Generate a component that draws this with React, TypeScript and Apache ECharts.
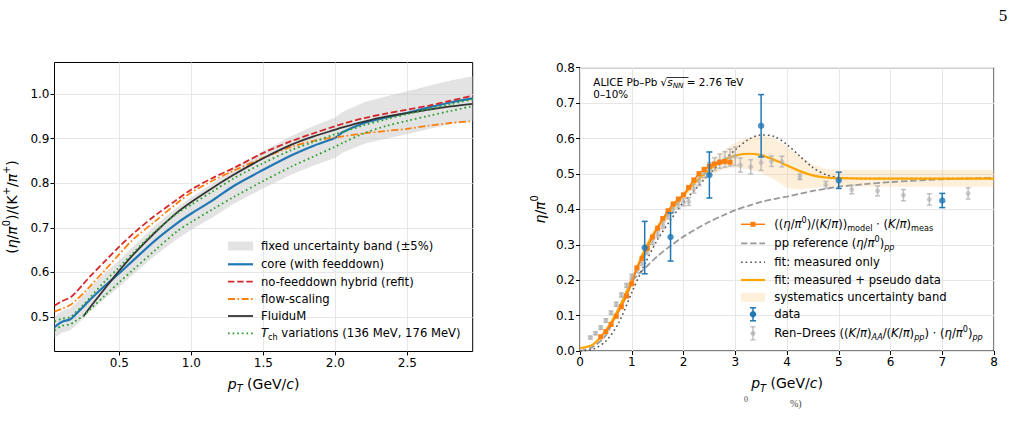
import React, { useEffect, useRef } from 'react';
import * as echarts from 'echarts';

const FONT = 'DejaVu Sans';
const GRID_COLOR = '#e6e6e6';

// ---------- Left panel: (eta/pi0)/(K+/pi+) vs pT ----------
const leftPt = [0.05, 0.1, 0.16, 0.2, 0.25, 0.3, 0.4, 0.5, 0.6, 0.75, 0.9, 1.0, 1.15, 1.3, 1.5, 1.7, 1.85, 2.0, 2.05, 2.2, 2.35, 2.5, 2.65, 2.8, 2.954];
const coreRatio = [0.477, 0.489, 0.495, 0.507, 0.523, 0.54, 0.57, 0.598, 0.628, 0.672, 0.71, 0.732, 0.762, 0.795, 0.83, 0.863, 0.884, 0.902, 0.914, 0.935, 0.947, 0.958, 0.97, 0.981, 0.99];
const noFeeddownRatio = [0.525, 0.535, 0.544, 0.556, 0.574, 0.592, 0.625, 0.658, 0.688, 0.728, 0.763, 0.786, 0.812, 0.835, 0.868, 0.895, 0.912, 0.928, 0.933, 0.946, 0.956, 0.965, 0.974, 0.985, 0.996];
const flowScalingRatio = [0.512, 0.518, 0.527, 0.538, 0.553, 0.57, 0.605, 0.641, 0.675, 0.715, 0.755, 0.779, 0.806, 0.829, 0.857, 0.882, 0.895, 0.903, 0.905, 0.912, 0.917, 0.922, 0.929, 0.935, 0.939];
const fluidumRatio = [null, null, null, null, 0.501, 0.523, 0.564, 0.604, 0.641, 0.69, 0.734, 0.758, 0.79, 0.82, 0.856, 0.887, 0.905, 0.92, 0.925, 0.938, 0.949, 0.957, 0.965, 0.972, 0.978];
const tchLowRatio = [0.49, 0.496, 0.5, 0.512, 0.527, 0.545, 0.58, 0.612, 0.645, 0.692, 0.732, 0.752, 0.782, 0.812, 0.845, 0.875, 0.893, 0.91, 0.915, 0.93, 0.943, 0.955, 0.966, 0.977, 0.988];
const tchHighRatio = [0.47, 0.48, 0.484, 0.492, 0.503, 0.518, 0.548, 0.578, 0.607, 0.65, 0.692, 0.713, 0.742, 0.77, 0.805, 0.838, 0.86, 0.882, 0.89, 0.912, 0.928, 0.94, 0.951, 0.962, 0.973];
const bandFraction = 0.05; // fixed +-5% band around the core curve
const leftXTicks = [0.5, 1.0, 1.5, 2.0, 2.5];
const leftYTicks = [0.5, 0.6, 0.7, 0.8, 0.9, 1.0];

// ---------- Right panel: eta/pi0 vs pT ----------
const fitPt = [0, 0.25, 0.5, 0.75, 1.0, 1.25, 1.5, 1.75, 2.0, 2.25, 2.5, 2.75, 3.0, 3.25, 3.5, 3.75, 4.0, 4.25, 4.5, 4.75, 5.0, 5.5, 6, 7, 8];
const fitPseudo = [0.008, 0.018, 0.058, 0.12, 0.2, 0.285, 0.35, 0.397, 0.44, 0.48, 0.512, 0.537, 0.552, 0.557, 0.553, 0.54, 0.524, 0.508, 0.496, 0.49, 0.488, 0.487, 0.487, 0.487, 0.487];
const fitMeasured = [0.0, 0.005, 0.028, 0.08, 0.165, 0.245, 0.315, 0.37, 0.42, 0.46, 0.5, 0.535, 0.568, 0.597, 0.61, 0.606, 0.583, 0.55, 0.518, 0.498, 0.49, 0.487, 0.487, 0.487, 0.487];
const ppReference = [0.0, 0.012, 0.045, 0.12, 0.196, 0.233, 0.268, 0.297, 0.323, 0.345, 0.365, 0.382, 0.398, 0.41, 0.421, 0.429, 0.436, 0.444, 0.452, 0.458, 0.464, 0.471, 0.477, 0.485, 0.489];
const systLow = [0.005, 0.015, 0.053, 0.113, 0.19, 0.268, 0.33, 0.383, 0.428, 0.466, 0.495, 0.512, 0.518, 0.513, 0.503, 0.485, 0.46, 0.456, 0.46, 0.463, 0.464, 0.464, 0.464, 0.464, 0.464];
const systHigh = [0.011, 0.021, 0.063, 0.127, 0.21, 0.302, 0.362, 0.411, 0.452, 0.494, 0.53, 0.562, 0.588, 0.603, 0.61, 0.6, 0.578, 0.55, 0.527, 0.515, 0.511, 0.511, 0.511, 0.511, 0.511];

const modelPt = [0.4, 0.5, 0.6, 0.7, 0.8, 0.9, 1.0, 1.1, 1.2, 1.3, 1.4, 1.5, 1.6, 1.7, 1.8, 1.9, 2.0, 2.1, 2.2, 2.3, 2.4, 2.5, 2.6, 2.7, 2.8, 2.9];
const modelEta = [0.04, 0.055, 0.075, 0.098, 0.125, 0.155, 0.19, 0.235, 0.262, 0.29, 0.322, 0.347, 0.374, 0.396, 0.415, 0.429, 0.441, 0.462, 0.483, 0.501, 0.513, 0.522, 0.528, 0.533, 0.535, 0.533];

const dataPt = [1.25, 1.75, 2.5, 3.5, 5.0, 7.0];
const dataEta = [0.292, 0.322, 0.497, 0.636, 0.482, 0.425];
const dataErr = [0.074, 0.068, 0.065, 0.088, 0.023, 0.02];

const renDreesPt = [0.2, 0.3, 0.4, 0.5, 0.6, 0.7, 0.8, 0.9, 1.0, 1.1, 1.2, 1.3, 1.4, 1.5, 1.6, 1.7, 1.8, 1.9, 2.0, 2.1, 2.2, 2.3, 2.4, 2.5, 2.6, 2.7, 2.8, 2.9, 3.0, 3.1, 3.3, 3.5, 3.7, 3.9, 4.25, 4.75, 5.25, 5.75, 6.25, 6.75, 7.5];
const renDreesEta = [0.038, 0.05, 0.066, 0.086, 0.108, 0.132, 0.158, 0.185, 0.21, 0.228, 0.25, 0.28, 0.308, 0.33, 0.355, 0.383, 0.402, 0.414, 0.42, 0.422, 0.458, 0.48, 0.503, 0.516, 0.528, 0.536, 0.541, 0.546, 0.55, 0.525, 0.52, 0.532, 0.536, 0.535, 0.492, 0.469, 0.456, 0.452, 0.44, 0.428, 0.445];
const renDreesErr = [0.004, 0.004, 0.005, 0.005, 0.005, 0.006, 0.006, 0.006, 0.007, 0.007, 0.008, 0.008, 0.008, 0.009, 0.009, 0.01, 0.01, 0.01, 0.01, 0.011, 0.012, 0.013, 0.014, 0.016, 0.018, 0.02, 0.022, 0.024, 0.026, 0.02, 0.02, 0.022, 0.015, 0.015, 0.008, 0.01, 0.012, 0.014, 0.016, 0.016, 0.016];

const pairs = (xs: number[], ys: (number | null)[]) =>
  xs.map((x, i) => [x, ys[i]]).filter((p) => p[1] !== null);

const C = {
  blue: '#1f77b4',
  red: '#d62728',
  orange: '#ff7f0e',
  fit: '#ffa500',
  dark: '#333333',
  green: '#2ca02c',
  gray: '#999999',
  dotted: '#555555',
  light: 'rgba(175,175,175,0.75)',
  leftBand: 'rgba(200,200,200,0.5)',
  rightBand: 'rgba(253,190,110,0.25)',
};

const DASH = [6.4, 2.8];
const DASHDOT = [7, 2.5, 1.6, 2.5];
const DOT = [1.7, 2.9];

const legendRich = (size: number) => ({
  it: { fontStyle: 'italic', fontSize: size, fontFamily: FONT, lineHeight: size * 1.4, fill: '#000' },
  sup: { fontSize: size * 0.7, fontFamily: FONT, height: size * 0.7, verticalAlign: 'top', fill: '#000' },
  sub: { fontSize: size * 0.7, fontFamily: FONT, height: size * 0.7, verticalAlign: 'bottom', fill: '#000' },
  subit: { fontSize: size * 0.7, fontStyle: 'italic', fontFamily: FONT, height: size * 0.7, verticalAlign: 'bottom', fill: '#000' },
});

const axisRich = (size: number) => ({
  it: { fontStyle: 'italic', fontSize: size, fontFamily: FONT, lineHeight: size * 1.45, color: '#000' },
  sup: { fontSize: size * 0.7, fontFamily: FONT, height: size * 0.7, verticalAlign: 'top', color: '#000' },
  subit: { fontSize: size * 0.7, fontStyle: 'italic', fontFamily: FONT, height: size * 0.7, verticalAlign: 'bottom', color: '#000' },
});

function errorBars(name: string, xs: number[], ys: number[], es: number[], color: string, width: number, cap: number, z: number) {
  return {
    type: 'custom',
    name,
    xAxisIndex: 1,
    yAxisIndex: 1,
    z,
    silent: true,
    data: xs.map((x, i) => [x, ys[i], es[i]]),
    encode: { x: 0, y: 1 },
    renderItem: (_p: any, api: any) => {
      const x = api.value(0);
      const y = api.value(1);
      const e = api.value(2);
      const a = api.coord([x, y + e]);
      const b = api.coord([x, y - e]);
      const st = { stroke: color, lineWidth: width };
      return {
        type: 'group',
        children: [
          { type: 'line', shape: { x1: a[0], y1: a[1], x2: b[0], y2: b[1] }, style: st },
          { type: 'line', shape: { x1: a[0] - cap, y1: a[1], x2: a[0] + cap, y2: a[1] }, style: st },
          { type: 'line', shape: { x1: b[0] - cap, y1: b[1], x2: b[0] + cap, y2: b[1] }, style: st },
        ],
      };
    },
  };
}

// Filled region between a lower and an upper curve, drawn as one polygon.
function bandSeries(name: string, xs: number[], lo: number[], hi: number[], axis: number, color: string) {
  return {
    type: 'custom',
    name,
    xAxisIndex: axis,
    yAxisIndex: axis,
    z: 1,
    silent: true,
    data: xs.map((x, i) => [x, lo[i], hi[i]]),
    encode: { x: 0, y: [1, 2] },
    renderItem: (params: any, api: any) => {
      if (params.dataIndex !== 0) return { type: 'group', children: [] };
      const upper = xs.map((x, i) => api.coord([x, hi[i]]));
      const lower = xs.map((x, i) => api.coord([x, lo[i]])).reverse();
      return {
        type: 'polygon',
        shape: { points: upper.concat(lower) },
        style: { fill: color, stroke: 'none' },
      };
    },
  };
}

function curve(name: string, xs: number[], ys: (number | null)[], axis: number, color: string, width: number, dash: any, z: number) {
  return {
    type: 'line',
    name,
    xAxisIndex: axis,
    yAxisIndex: axis,
    data: pairs(xs, ys),
    showSymbol: false,
    symbol: 'none',
    smooth: 0.3,
    silent: true,
    z,
    lineStyle: { color, width, type: dash },
  };
}

function legendLine(x1: number, y1: number, x2: number, y2: number, color: string, width: number, dash?: number[]) {
  return {
    type: 'line',
    z: 50,
    shape: { x1, y1, x2, y2 },
    style: { stroke: color, lineWidth: width, lineDash: dash || null },
    silent: true,
  };
}

function legendText(x: number, y: number, text: string, size: number) {
  return {
    type: 'text',
    x,
    y,
    z: 50,
    silent: true,
    style: {
      text,
      fontFamily: FONT,
      fontSize: size,
      lineHeight: size * 1.4,
      fill: '#000',
      verticalAlign: 'middle',
      align: 'left',
      rich: legendRich(size),
    },
  };
}

function legendErrorMarker(cx: number, cy: number, color: string, r: number, cap: number) {
  return [
    legendLine(cx, cy - 6.5, cx, cy + 6.5, color, 1.5),
    legendLine(cx - cap, cy - 6.5, cx + cap, cy - 6.5, color, 1.5),
    legendLine(cx - cap, cy + 6.5, cx + cap, cy + 6.5, color, 1.5),
    { type: 'circle', z: 50, shape: { cx, cy, r }, style: { fill: color }, silent: true },
  ];
}

function buildOption() {
  const bandLo = coreRatio.map((v) => v * (1 - bandFraction));
  const bandHi = coreRatio.map((v) => v * (1 + bandFraction));

  const tickLabel = { fontFamily: FONT, fontSize: 12, color: '#000' };
  const axisName = { fontFamily: FONT, fontSize: 14, color: '#000', lineHeight: 20, rich: axisRich(14) };

  const LFS = 11.6;
  const lRows = [246, 264.3, 281.7, 299, 316, 333.3];
  const lx1 = 228;
  const lx2 = 253;
  const ltx = 261;
  const rRows = [224.3, 243.3, 262.3, 280, 297.3, 314.3, 333.3];
  const rx1 = 741;
  const rx2 = 765;
  const rtx = 774.3;
  const rmid = (rx1 + rx2) / 2;

  const graphics: any[] = [
    // left legend
    { type: 'rect', z: 50, shape: { x: lx1, y: lRows[0] - 4.5, width: lx2 - lx1, height: 9 }, style: { fill: C.leftBand }, silent: true },
    legendText(ltx, lRows[0], 'fixed uncertainty band (\u00b15%)', LFS),
    legendLine(lx1, lRows[1], lx2, lRows[1], C.blue, 2.2),
    legendText(ltx, lRows[1], 'core (with feeddown)', LFS),
    legendLine(lx1, lRows[2], lx2, lRows[2], C.red, 1.8, DASH),
    legendText(ltx, lRows[2], 'no-feeddown hybrid (refit)', LFS),
    legendLine(lx1, lRows[3], lx2, lRows[3], C.orange, 1.8, DASHDOT),
    legendText(ltx, lRows[3], 'flow-scaling', LFS),
    legendLine(lx1, lRows[4], lx2, lRows[4], C.dark, 1.8),
    legendText(ltx, lRows[4], 'FluiduM', LFS),
    legendLine(lx1, lRows[5], lx2, lRows[5], C.green, 1.8, DOT),
    legendText(ltx, lRows[5], '{it|T}{sub|ch} variations (136 MeV, 176 MeV)', LFS),

    // right legend
    legendLine(rx1, rRows[0], rx2, rRows[0], C.orange, 1.5),
    { type: 'rect', z: 50, shape: { x: rmid - 2.5, y: rRows[0] - 2.5, width: 5, height: 5 }, style: { fill: C.orange }, silent: true },
    legendText(rtx, rRows[0], '(({it|\u03b7}/{it|\u03c0}{sup|0})/({it|K}/{it|\u03c0})){sub|model} \u22c5 ({it|K}/{it|\u03c0}){sub|meas}', LFS),
    legendLine(rx1, rRows[1], rx2, rRows[1], C.gray, 1.8, DASH),
    legendText(rtx, rRows[1], 'pp reference ({it|\u03b7}/{it|\u03c0}{sup|0}){subit|pp}', LFS),
    legendLine(rx1, rRows[2], rx2, rRows[2], C.dotted, 1.6, DOT),
    legendText(rtx, rRows[2], 'fit: measured only', LFS),
    legendLine(rx1, rRows[3], rx2, rRows[3], C.fit, 2.2),
    legendText(rtx, rRows[3], 'fit: measured + pseudo data', LFS),
    { type: 'rect', z: 50, shape: { x: rx1, y: rRows[4] - 4.5, width: rx2 - rx1, height: 9 }, style: { fill: C.rightBand }, silent: true },
    legendText(rtx, rRows[4], 'systematics uncertainty band', LFS),
    ...legendErrorMarker(rmid, rRows[5], C.blue, 3.2, 3),
    legendText(rtx, rRows[5], 'data', LFS),
    ...legendErrorMarker(rmid, rRows[6], C.light, 2.5, 2.5),
    legendText(rtx, rRows[6], 'Ren\u2013Drees (({it|K}/{it|\u03c0}){subit|AA}/({it|K}/{it|\u03c0}){subit|pp}) \u22c5 ({it|\u03b7}/{it|\u03c0}{sup|0}){subit|pp}', LFS),

    // annotation in the right panel
    {
      type: 'text',
      x: 593.3,
      y: 82,
      z: 50,
      silent: true,
      style: {
        text: 'ALICE Pb\u2013Pb \u221a{si|s}{ss|NN} = 2.76 TeV',
        fontFamily: FONT,
        fontSize: 10.4,
        lineHeight: 14,
        fill: '#000',
        verticalAlign: 'middle',
        rich: {
          si: { fontStyle: 'italic', fontSize: 10.4, fontFamily: FONT, fill: '#000' },
          ss: { fontStyle: 'italic', fontSize: 7.3, fontFamily: FONT, height: 7.3, verticalAlign: 'bottom', fill: '#000' },
        },
      },
    },
    { type: 'line', z: 50, shape: { x1: 667, y1: 77.5, x2: 688.5, y2: 77.5 }, style: { stroke: '#000', lineWidth: 0.8 }, silent: true },
    {
      type: 'text',
      x: 593.3,
      y: 94.3,
      z: 50,
      silent: true,
      style: { text: '0\u201310%', fontFamily: FONT, fontSize: 10.4, fill: '#000', verticalAlign: 'middle' },
    },

    // page number and the top of the caption line below the figure
    {
      type: 'text',
      x: 1003,
      y: 15,
      silent: true,
      style: { text: '5', fontFamily: 'Liberation Serif', fontSize: 17, fill: '#000', align: 'center', verticalAlign: 'middle' },
    },
    {
      type: 'text',
      x: 746,
      y: 399,
      silent: true,
      style: { text: '0', fontFamily: 'Liberation Serif', fontSize: 8, fill: '#444', align: 'center', verticalAlign: 'middle' },
    },
    {
      type: 'text',
      x: 790,
      y: 403,
      silent: true,
      style: { text: '%)', fontFamily: 'Liberation Serif', fontSize: 10, fill: '#444', align: 'left', verticalAlign: 'middle' },
    },
  ];

  return {
    animation: false,
    backgroundColor: '#fff',
    grid: [
      { left: 54.5, top: 62.5, width: 418.2, height: 289, show: true, borderColor: '#000', borderWidth: 1, backgroundColor: 'transparent', outerBoundsMode: 'none', containLabel: false },
      { left: 580, top: 67.7, width: 414, height: 283.3, show: true, borderColor: '#000', borderWidth: 1, backgroundColor: 'transparent', outerBoundsMode: 'none', containLabel: false },
    ],
    xAxis: [
      {
        gridIndex: 0,
        type: 'value',
        min: 0.05,
        max: 2.954,
        axisLine: { show: false },
        axisTick: { show: true, length: 4, lineStyle: { color: '#000', width: 1 }, customValues: leftXTicks },
        axisLabel: { ...tickLabel, margin: 5, customValues: leftXTicks, formatter: (v: number) => v.toFixed(1) },
        splitLine: { show: true, lineStyle: { color: GRID_COLOR, width: 1 } },
        name: '{it|p}{subit|T} (GeV/{it|c})',
        nameLocation: 'middle',
        nameGap: 22,
        nameTextStyle: axisName,
      },
      {
        gridIndex: 1,
        type: 'value',
        min: 0,
        max: 8,
        interval: 1,
        axisLine: { show: false },
        axisTick: { show: true, length: 4, lineStyle: { color: '#000', width: 1 } },
        axisLabel: { ...tickLabel, margin: 5, formatter: (v: number) => String(v) },
        splitLine: { show: true, lineStyle: { color: GRID_COLOR, width: 1 } },
        name: '{it|p}{subit|T} (GeV/{it|c})',
        nameLocation: 'middle',
        nameGap: 22,
        nameTextStyle: axisName,
      },
    ],
    yAxis: [
      {
        gridIndex: 0,
        type: 'value',
        min: 0.4227,
        max: 1.0706,
        axisLine: { show: false },
        axisTick: { show: true, length: 4, lineStyle: { color: '#000', width: 1 }, customValues: leftYTicks },
        axisLabel: { ...tickLabel, margin: 5, customValues: leftYTicks, formatter: (v: number) => v.toFixed(1) },
        splitLine: { show: true, lineStyle: { color: GRID_COLOR, width: 1 } },
        name: '({it|\u03b7}/{it|\u03c0}{sup|0})/(K{sup|+}/{it|\u03c0}{sup|+})',
        nameLocation: 'middle',
        nameRotate: 90,
        nameGap: 32.5,
        nameTextStyle: axisName,
      },
      {
        gridIndex: 1,
        type: 'value',
        min: 0,
        max: 0.8,
        interval: 0.1,
        axisLine: { show: false },
        axisTick: { show: true, length: 4, lineStyle: { color: '#000', width: 1 } },
        axisLabel: { ...tickLabel, margin: 5, formatter: (v: number) => v.toFixed(1) },
        splitLine: { show: true, lineStyle: { color: GRID_COLOR, width: 1 } },
        name: '{it|\u03b7}/{it|\u03c0}{sup|0}',
        nameLocation: 'middle',
        nameRotate: 90,
        nameGap: 30,
        nameTextStyle: axisName,
      },
    ],
    series: [
      // left panel
      bandSeries('fixed uncertainty band', leftPt, bandLo, bandHi, 0, C.leftBand),
      curve('core (with feeddown)', leftPt, coreRatio, 0, C.blue, 2.2, 'solid', 3),
      curve('no-feeddown hybrid (refit)', leftPt, noFeeddownRatio, 0, C.red, 1.8, DASH, 3),
      curve('flow-scaling', leftPt, flowScalingRatio, 0, C.orange, 1.8, DASHDOT, 3),
      curve('FluiduM', leftPt, fluidumRatio, 0, C.dark, 1.8, 'solid', 3),
      curve('Tch 136 MeV', leftPt, tchLowRatio, 0, C.green, 1.8, DOT, 4),
      curve('Tch 176 MeV', leftPt, tchHighRatio, 0, C.green, 1.8, DOT, 4),

      // right panel
      bandSeries('systematics uncertainty band', fitPt, systLow, systHigh, 1, C.rightBand),
      curve('pp reference', fitPt, ppReference, 1, C.gray, 1.8, DASH, 2),
      curve('fit: measured only', fitPt, fitMeasured, 1, C.dotted, 1.6, DOT, 2),
      curve('fit: measured + pseudo data', fitPt, fitPseudo, 1, C.fit, 2.2, 'solid', 3),
      errorBars('Ren-Drees err', renDreesPt, renDreesEta, renDreesErr, C.light, 1.5, 2.5, 4),
      {
        type: 'scatter',
        name: 'Ren-Drees',
        xAxisIndex: 1,
        yAxisIndex: 1,
        data: pairs(renDreesPt, renDreesEta),
        symbol: 'circle',
        symbolSize: 5,
        silent: true,
        z: 4,
        itemStyle: { color: C.light },
      },
      {
        type: 'line',
        name: 'model',
        xAxisIndex: 1,
        yAxisIndex: 1,
        data: pairs(modelPt, modelEta),
        symbol: 'rect',
        symbolSize: 5,
        showSymbol: true,
        silent: true,
        z: 5,
        lineStyle: { color: C.orange, width: 1.5 },
        itemStyle: { color: C.orange },
      },
      errorBars('data err', dataPt, dataEta, dataErr, C.blue, 1.5, 3, 6),
      {
        type: 'scatter',
        name: 'data',
        xAxisIndex: 1,
        yAxisIndex: 1,
        data: pairs(dataPt, dataEta),
        symbol: 'circle',
        symbolSize: 6.5,
        silent: true,
        z: 6,
        itemStyle: { color: C.blue },
      },
    ],
    graphic: { elements: graphics },
  };
}

export default function App() {
  const ref = useRef<HTMLDivElement>(null);
  useEffect(() => {
    if (!ref.current) return;
    const chart = echarts.init(ref.current, null, { renderer: 'svg' });
    chart.setOption(buildOption() as any);
    return () => chart.dispose();
  }, []);
  return (
    <div
      ref={ref}
      style={{ position: 'fixed', left: 0, top: 0, width: 1015, height: 430, background: '#fff' }}
    />
  );
}
